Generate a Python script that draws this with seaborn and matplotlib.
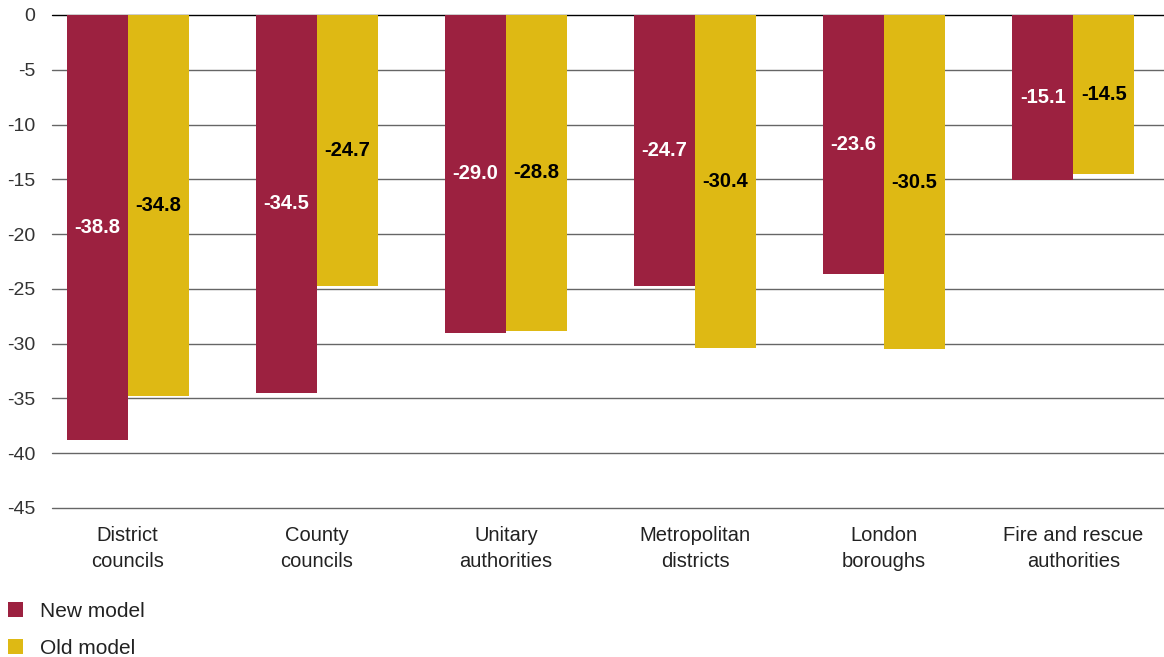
import matplotlib
matplotlib.use("Agg")
import matplotlib.pyplot as plt
import seaborn as sns
import pandas as pd

categories = ["District\ncouncils", "County\ncouncils", "Unitary\nauthorities",
              "Metropolitan\ndistricts", "London\nboroughs", "Fire and rescue\nauthorities"]
new_model = [-38.8, -34.5, -29.0, -24.7, -23.6, -15.1]
old_model = [-34.8, -24.7, -28.8, -30.4, -30.5, -14.5]
series_names = ["New model", "Old model"]
y_ticks = [0, -5, -10, -15, -20, -25, -30, -35, -40, -45]

colors = ["#9C2140", "#DEB914"]

df = pd.DataFrame({
    "category": categories * 2,
    "value": new_model + old_model,
    "model": [series_names[0]] * len(categories) + [series_names[1]] * len(categories),
})

sns.set_theme(style="white")
plt.rcParams["font.family"] = ["Liberation Sans", "DejaVu Sans"]

fig = plt.figure(figsize=(11.64, 6.57), dpi=100)
ax = fig.add_axes([0.0447, 0.2268, 0.9553, 0.7504])

sns.barplot(data=df, x="category", y="value", hue="model", order=categories,
            hue_order=series_names, palette=colors, width=0.645, saturation=1,
            linewidth=0, ax=ax, legend=True)

ax.set_ylim(-45, 0)
ax.set_xlim(-0.4, 5.48)
ax.set_yticks(y_ticks)
ax.set_yticklabels([str(t) for t in y_ticks])
ax.set_xlabel("")
ax.set_ylabel("")
ax.set_axisbelow(True)
for t in y_ticks:
    ax.axhline(t, color="#000000" if t == 0 else "#666666", lw=1.0, zorder=0,
               clip_on=False)
for s in ax.spines.values():
    s.set_visible(False)
ax.tick_params(axis="y", length=0, pad=12, labelsize=14, labelcolor="#333333")
ax.tick_params(axis="x", length=0, pad=13, labelsize=14.5, labelcolor="#222222")
for lbl in ax.get_xticklabels():
    lbl.set_linespacing(1.45)

# value labels at the middle of each bar
for cont, col in zip(ax.containers, ["white", "black"]):
    ax.bar_label(cont, fmt="%.1f", label_type="center", color=col,
                 fontsize=14.5, fontweight="bold")

handles, labels = ax.get_legend_handles_labels()
ax.get_legend().remove()
fig.legend(handles, labels, loc="upper left", bbox_to_anchor=(0.0069, 0.084),
           frameon=False, fontsize=15, handlelength=0.7, handleheight=0.7,
           handletextpad=0.85, labelspacing=0.85, borderpad=0, borderaxespad=0,
           labelcolor="#222222")

fig.savefig("out.png", dpi=100)
